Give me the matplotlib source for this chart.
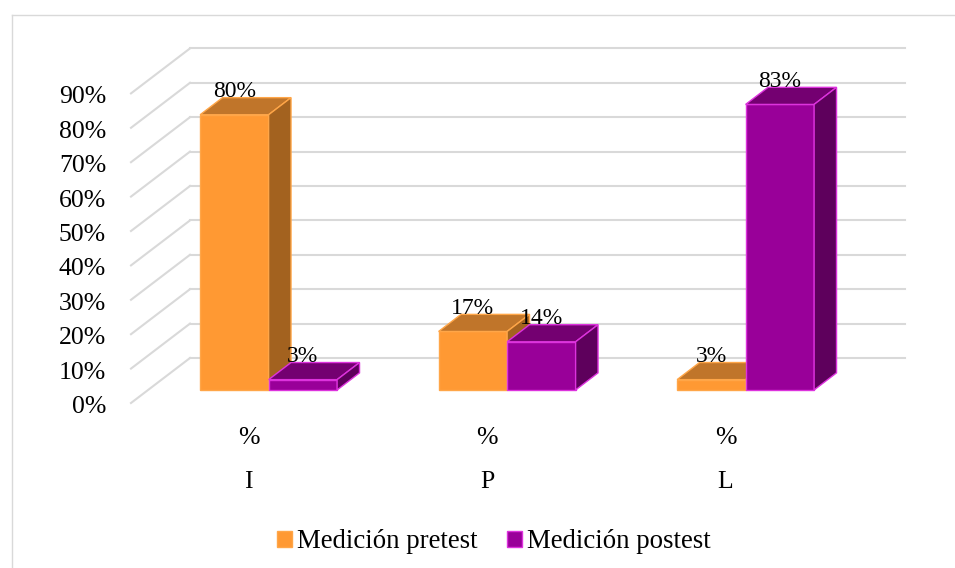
import matplotlib
matplotlib.use("Agg")
import matplotlib.pyplot as plt
from matplotlib.patches import Polygon, Patch
from matplotlib.lines import Line2D

# ── Datos ────────────────────────────────────────────────
categories   = ["I", "P", "L"]
sub_label    = "%"
pretest      = [80, 17, 3]
postest      = [3, 14, 83]
series_names = ["Medición pretest", "Medición postest"]
y_ticks      = [0, 10, 20, 30, 40, 50, 60, 70, 80, 90]

# ── Estilo ───────────────────────────────────────────────
plt.rcParams["font.family"] = ["Liberation Serif", "DejaVu Serif"]
GRID = "#D9D9D9"
COLORS = {
    "pre":  dict(front="#FF9933", top="#C0752A", side="#A3621F", edge="#FFA648"),
    "post": dict(front="#990099", top="#740071", side="#5E005C", edge="#DD33DD"),
}

W, H = 955, 568
fig = plt.figure(figsize=(W / 100, H / 100), dpi=100)
ax = fig.add_axes([0, 0, 1, 1])

# geometría pseudo-3D (plano frontal: categoría 0 / 0 %)
X0_PX, Y0_PX = 251.5, 403
PX_CAT, PX_PCT = 238.5, 3.44
ax.set_xlim(-X0_PX / PX_CAT, (W - X0_PX) / PX_CAT)
ax.set_ylim(-(H - Y0_PX) / PX_PCT, Y0_PX / PX_PCT)
ax.axis("off")

DX = 59 / PX_CAT          # profundidad total del suelo
DY = 45 / PX_PCT
D_FRONT, D_BACK = 0.29, 0.67
BAR_W = 68.5 / PX_CAT
X_LEFT = (131 - X0_PX) / PX_CAT
X_RIGHT = (905 - X0_PX) / PX_CAT

# ── Rejilla (pared lateral + fondo) ──────────────────────
for v in y_ticks:
    ax.plot([X_LEFT, X_LEFT + DX], [v, v + DY], color=GRID, lw=1.5, zorder=1)
    ax.plot([X_LEFT + DX, X_RIGHT], [v + DY, v + DY], color=GRID, lw=1.5, zorder=1)
    ax.text((106 - X0_PX) / PX_CAT, v - 4 / PX_PCT, f"{v}%", ha="right",
            va="center", fontsize=18.5)


def draw_bar(x, v, c, z):
    fx = x + D_FRONT * DX
    fy = D_FRONT * DY
    bx = (D_BACK - D_FRONT) * DX
    by = (D_BACK - D_FRONT) * DY
    ax.bar(fx, v, BAR_W, bottom=fy, align="edge", color=c["front"],
           edgecolor=c["edge"], lw=1, zorder=z)
    top = [(fx, fy + v), (fx + BAR_W, fy + v),
           (fx + BAR_W + bx, fy + v + by), (fx + bx, fy + v + by)]
    side = [(fx + BAR_W, fy), (fx + BAR_W + bx, fy + by),
            (fx + BAR_W + bx, fy + v + by), (fx + BAR_W, fy + v)]
    ax.add_patch(Polygon(top, closed=True, facecolor=c["top"],
                         edgecolor=c["edge"], lw=1, zorder=z))
    ax.add_patch(Polygon(side, closed=True, facecolor=c["side"],
                         edgecolor=c["edge"], lw=1, zorder=z))
    ax.text(fx + BAR_W / 2, fy + v + 23 / PX_PCT, f"{v}%", ha="center",
            va="center", fontsize=17, zorder=50)


z = 2
for i, (a, b) in enumerate(zip(pretest, postest)):
    draw_bar(i - BAR_W, a, COLORS["pre"], z)
    draw_bar(i, b, COLORS["post"], z + 1)
    z += 2
    ax.text(i - 3 / PX_CAT, -35 / PX_PCT, sub_label, ha="center",
            va="center", fontsize=18.5)
    ax.text(i - 3 / PX_CAT, -79 / PX_PCT, categories[i], ha="center",
            va="center", fontsize=18.5)

# ── Leyenda ──────────────────────────────────────────────
handles = [Patch(facecolor=COLORS["pre"]["front"], edgecolor=COLORS["pre"]["edge"]),
           Patch(facecolor=COLORS["post"]["front"], edgecolor=COLORS["post"]["edge"])]
fig.legend(handles, series_names, loc="center",
           bbox_to_anchor=(494 / W, 1 - 542 / H), ncol=2, frameon=False,
           fontsize=19.3, handlelength=0.55, handleheight=0.55,
           handletextpad=0.2, columnspacing=1.1)

# marco del gráfico
fig.add_artist(Line2D([12 / W, 12 / W], [0, 1 - 15 / H], transform=fig.transFigure,
                      color=GRID, lw=1))
fig.add_artist(Line2D([12 / W, 1], [1 - 15 / H, 1 - 15 / H], transform=fig.transFigure,
                      color=GRID, lw=1))

fig.savefig("out.png", dpi=100)
